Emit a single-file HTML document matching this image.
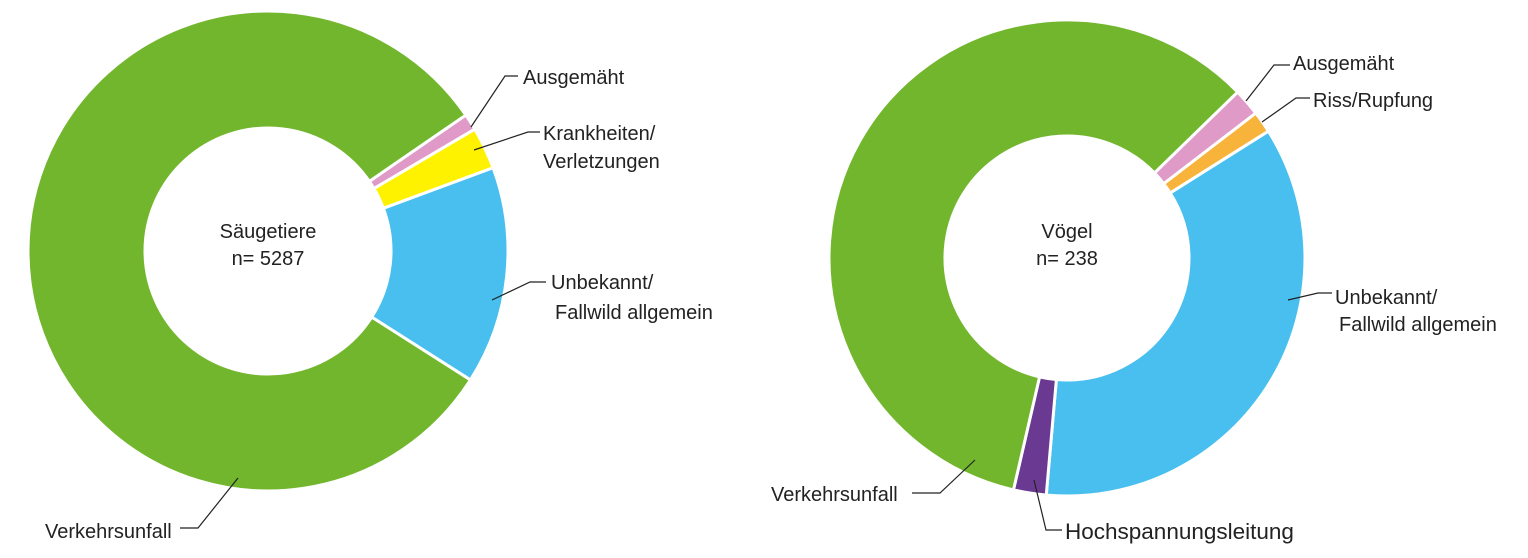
<!DOCTYPE html>
<html><head><meta charset="utf-8"><style>
html,body{margin:0;padding:0;background:#fff;width:1528px;height:558px;overflow:hidden}
svg text{font-family:"Liberation Sans",sans-serif;font-size:20px;fill:#222}
</style></head><body>
<svg id="s" width="1528" height="558" xmlns="http://www.w3.org/2000/svg">
<g id="d"></g>
<g stroke="#222" stroke-width="1.2" fill="none">
<polyline points="471,127 505,76 518,76"/>
<polyline points="474,150 528,132 540,132"/>
<polyline points="492,300 530,282 546,282"/>
<polyline points="238,478 198,528 180,528"/>
<polyline points="1246,101 1274,65 1290,65"/>
<polyline points="1262,122 1296,98 1310,98"/>
<polyline points="1288,300 1318,293 1332,293"/>
<polyline points="975,460 940,493 912,493"/>
<polyline points="1034,480 1046,530 1062,530"/>
</g>
<text x="268" y="238" text-anchor="middle">Säugetiere</text>
<text x="268" y="265" text-anchor="middle">n= 5287</text>
<text x="1067" y="238" text-anchor="middle">Vögel</text>
<text x="1067" y="265" text-anchor="middle">n= 238</text>
<text x="523" y="84">Ausgemäht</text>
<text x="543" y="140">Krankheiten/</text>
<text x="543" y="168">Verletzungen</text>
<text x="551" y="289">Unbekannt/</text>
<text x="555" y="319">Fallwild allgemein</text>
<text x="45" y="538">Verkehrsunfall</text>
<text x="1293" y="70">Ausgemäht</text>
<text x="1313" y="107">Riss/Rupfung</text>
<text x="1335" y="304">Unbekannt/</text>
<text x="1339" y="331">Fallwild allgemein</text>
<text x="771" y="501">Verkehrsunfall</text>
<text x="1065" y="539" style="font-size:22.5px">Hochspannungsleitung</text>
</svg>
<script>
function arc(cx,cy,R,r,a0,a1,col){
 var t=Math.PI/180,p=function(rr,a){return (cx+rr*Math.cos(a*t)).toFixed(2)+","+(cy+rr*Math.sin(a*t)).toFixed(2)};
 var lg=(a1-a0)>180?1:0;
 var d="M"+p(R,a0)+" A"+R+","+R+" 0 "+lg+" 1 "+p(R,a1)+" L"+p(r,a1)+" A"+r+","+r+" 0 "+lg+" 0 "+p(r,a0)+"Z";
 var e=document.createElementNS("http://www.w3.org/2000/svg","path");
 e.setAttribute("d",d);e.setAttribute("fill",col);e.setAttribute("stroke","#fff");e.setAttribute("stroke-width","3");
 document.getElementById("d").appendChild(e);
}
var G="#72b62d";
arc(268,251,240,123,-34.5,-30.5,"#e09ac8");
arc(268,251,240,123,-30.5,-20.3,"#fff200");
arc(268,251,240,123,-20.3,32.5,"#48bfee");
arc(268,251,240,123,32.5,325.5,G);
arc(1067,258,238,122,-44.2,-37.5,"#e09ac8");
arc(1067,258,238,122,-37.5,-32.2,"#f7b33a");
arc(1067,258,238,122,-32.2,95,"#48bfee");
arc(1067,258,238,122,95,103,"#6a3a92");
arc(1067,258,238,122,103,315.8,G);
</script>
</body></html>
